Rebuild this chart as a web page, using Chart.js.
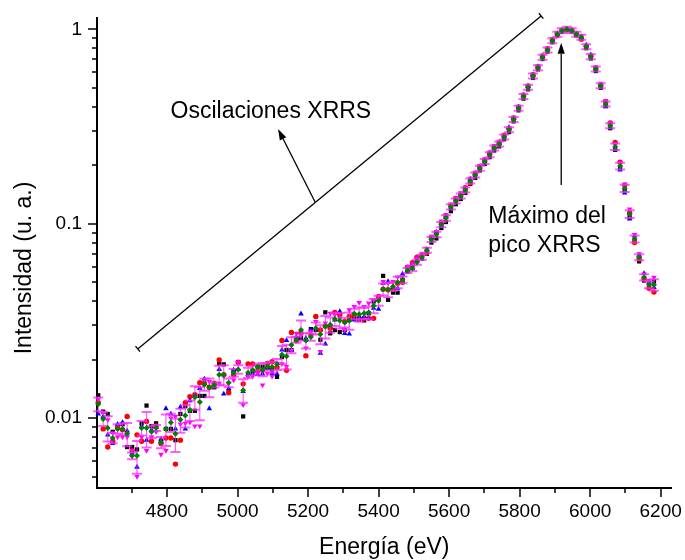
<!DOCTYPE html>
<html><head><meta charset="utf-8">
<script src="https://cdn.jsdelivr.net/npm/chart.js@4.4.1/dist/chart.umd.min.js"></script>
<style>html,body{margin:0;padding:0;background:#fff;}canvas{display:block;}</style>
</head><body>
<canvas id="c" width="685" height="560"></canvas>
<script>
// Energy (eV)
const energia = [
4605,4619,4632,4646,4660,4674,4687,4701,4715,4728,
4742,4756,4769,4783,4797,4811,4824,4838,4852,4865,
4879,4893,4906,4920,4934,4948,4961,4975,4989,5002,
5016,5030,5043,5057,5071,5085,5098,5112,5126,5139,
5153,5167,5180,5194,5208,5222,5235,5249,5263,5276,
5290,5304,5317,5331,5345,5359,5372,5386,5400,5413,
5427,5441,5454,5468,5482,5496,5509,5523,5537,5550,
5564,5578,5591,5605,5619,5633,5646,5660,5674,5687,
5701,5715,5728,5742,5756,5770,5783,5797,5811,5824,
5838,5852,5865,5879,5893,5907,5920,5934,5948,5961,
5975,5989,6002,6016,6030,6044,6057,6071,6085,6098,
6112,6126,6139,6153,6167,6181];

const serieNegra = [
0.0131,0.0108,0.0105,0.0085,0.0091,0.0093,0.0071,0.0071,0.0069,0.0094,
0.0116,0.0091,0.0094,0.0076,0.0088,0.0088,0.0077,0.0105,0.0115,0.0109,
0.0109,0.0130,0.0130,0.0144,0.0144,0.0190,0.0189,0.0136,0.0175,0.0194,
0.0102,0.0167,0.0175,0.0184,0.0184,0.0181,0.0178,0.0163,0.0206,0.0224,
0.0224,0.0258,0.0258,0.0209,0.0287,0.0284,0.0253,0.0350,0.0273,0.0284,
0.0277,0.0284,0.0320,0.0326,0.0320,0.0318,0.0346,0.0398,0.0406,0.0539,
0.0406,0.0442,0.0442,0.0514,0.0567,0.0614,0.0651,0.0678,0.0700,0.0800,
0.0840,0.0950,0.102,0.116,0.126,0.134,0.144,0.160,0.172,0.188,
0.203,0.220,0.238,0.250,0.272,0.296,0.336,0.383,0.440,0.491,
0.562,0.622,0.703,0.768,0.858,0.928,0.970,0.988,0.975,0.930,
0.895,0.800,0.708,0.610,0.500,0.403,0.310,0.240,0.193,0.149,
0.108,0.0810,0.0640,0.0510,0.0470,0.0505];

const serieRoja = [
0.0120,0.0088,0.0071,0.0076,0.0089,0.0087,0.0102,0.0068,0.0082,0.0076,
0.0096,0.0076,0.0091,0.0074,0.0079,0.0079,0.0058,0.0077,0.0120,0.0129,
0.0132,0.0152,0.0151,0.0144,0.0151,0.0199,0.0167,0.0135,0.0167,0.0194,
0.0150,0.0190,0.0190,0.0174,0.0176,0.0191,0.0195,0.0182,0.0251,0.0176,
0.0276,0.0250,0.0273,0.0209,0.0268,0.0333,0.0284,0.0298,0.0290,0.0350,
0.0340,0.0314,0.0333,0.0340,0.0326,0.0326,0.0326,0.0326,0.0422,0.0460,
0.0457,0.0460,0.0494,0.0500,0.0597,0.0631,0.0672,0.0691,0.0710,0.0850,
0.0900,0.1010,0.110,0.124,0.135,0.142,0.153,0.162,0.181,0.197,
0.213,0.231,0.249,0.262,0.285,0.309,0.350,0.398,0.459,0.512,
0.584,0.645,0.729,0.794,0.884,0.951,0.990,1.004,0.990,0.948,
0.890,0.822,0.731,0.633,0.518,0.425,0.330,0.262,0.207,0.158,
0.114,0.0800,0.0660,0.0520,0.0465,0.0445];

const serieAzul = [
0.0105,0.0102,0.0082,0.0074,0.0093,0.0095,0.0086,0.0066,0.0056,0.0091,
0.0077,0.0087,0.0090,0.0078,0.0112,0.0105,0.0088,0.0114,0.0088,0.0123,
0.0130,0.0142,0.0159,0.0112,0.0145,0.0178,0.0133,0.0142,0.0177,0.0178,
0.0137,0.0168,0.0170,0.0168,0.0169,0.0183,0.0170,0.0169,0.0224,0.0251,
0.0224,0.0261,0.0344,0.0258,0.0284,0.0290,0.0216,0.0241,0.0302,0.0320,
0.0354,0.0273,0.0271,0.0320,0.0333,0.0333,0.0326,0.0368,0.0363,0.0494,
0.0504,0.0471,0.0466,0.0552,0.0574,0.0590,0.0646,0.0657,0.0740,0.0845,
0.0905,0.0985,0.108,0.121,0.133,0.141,0.151,0.170,0.180,0.195,
0.211,0.229,0.247,0.260,0.283,0.313,0.348,0.399,0.456,0.508,
0.585,0.641,0.725,0.790,0.879,0.948,0.986,1.002,0.986,0.950,
0.915,0.830,0.740,0.628,0.516,0.400,0.312,0.242,0.189,0.144,
0.106,0.0865,0.0690,0.0555,0.0500,0.0470];

const serieMagenta = [
0.0125,0.0107,0.0098,0.0084,0.0080,0.0080,0.0080,0.0068,0.0050,0.0080,
0.0068,0.0080,0.0085,0.0065,0.0068,0.0100,0.0102,0.0093,0.0094,0.0095,
0.0091,0.0091,0.0148,0.0154,0.0148,0.0151,0.0164,0.0151,0.0157,0.0194,
0.0117,0.0164,0.0164,0.0170,0.0148,0.0170,0.0164,0.0191,0.0190,0.0184,
0.0223,0.0273,0.0268,0.0229,0.0279,0.0314,0.0220,0.0308,0.0346,0.0340,
0.0326,0.0284,0.0360,0.0375,0.0393,0.0375,0.0390,0.0406,0.0422,0.0504,
0.0494,0.0504,0.0531,0.0535,0.0602,0.0626,0.0665,0.0699,0.0745,0.0860,
0.0910,0.1030,0.111,0.126,0.136,0.144,0.154,0.171,0.184,0.199,
0.215,0.233,0.252,0.265,0.286,0.311,0.352,0.401,0.462,0.514,
0.588,0.648,0.733,0.798,0.890,0.958,0.995,1.010,0.996,0.960,
0.925,0.828,0.738,0.640,0.528,0.428,0.330,0.257,0.206,0.160,
0.119,0.0880,0.0700,0.0550,0.0510,0.0530];

const serieVerde = [
0.0118,0.0099,0.0089,0.0079,0.0088,0.0088,0.0083,0.0064,0.0064,0.0089,
0.0089,0.0085,0.0089,0.0075,0.0088,0.0095,0.0083,0.0098,0.0103,0.0110,
0.0128,0.0121,0.0149,0.0144,0.0148,0.0167,0.0167,0.0152,0.0171,0.0178,
0.0139,0.0171,0.0176,0.0183,0.0178,0.0184,0.0183,0.0189,0.0212,0.0208,
0.0238,0.0253,0.0284,0.0251,0.0261,0.0290,0.0270,0.0296,0.0302,0.0323,
0.0318,0.0310,0.0317,0.0344,0.0342,0.0346,0.0349,0.0378,0.0402,0.0460,
0.0457,0.0475,0.0500,0.0514,0.0574,0.0590,0.0633,0.0672,0.0730,0.0830,
0.0880,0.0990,0.107,0.122,0.131,0.139,0.149,0.166,0.178,0.193,
0.209,0.226,0.245,0.257,0.279,0.304,0.344,0.392,0.451,0.503,
0.575,0.635,0.718,0.783,0.874,0.943,0.983,1.000,0.983,0.943,
0.910,0.814,0.723,0.625,0.513,0.413,0.319,0.249,0.198,0.152,
0.112,0.0834,0.0673,0.0530,0.0485,0.0485];

const xTicks = [4800,5000,5200,5400,5600,5800,6000,6200];
const xMinorTicks = [4700,4900,5100,5300,5500,5700,5900,6100];
const yTicks = [0.01,0.1,1];
const yMinorTicks = [0.005,0.006,0.007,0.008,0.009,0.02,0.03,0.04,0.05,0.06,0.07,0.08,0.09,0.2,0.3,0.4,0.5,0.6,0.7,0.8,0.9];

// annotations (data coordinates)
const lineaOsc = [[4717,0.0227],[5861,1.171]];
const flechaOsc = [[5220,0.1294],[5115,0.307]];
const flechaMax = [[5918,0.1583],[5918,0.853]];
const textos = [
  {x:4810, y:0.3486, t:'Oscilaciones XRRS'},
  {x:5711, y:0.1013, t:'Máximo del'},
  {x:5711, y:0.0719, t:'pico XRRS'}
];

const FONT = 'Arial, "Liberation Sans", Helvetica, sans-serif';
const pts = arr => energia.map((e,i)=>({x:e,y:arr[i]}));

function errorDe(i){
  const v=[serieNegra[i],serieRoja[i],serieAzul[i],serieMagenta[i],serieVerde[i]];
  const m=v.reduce((a,b)=>a+b,0)/v.length;
  return Math.sqrt(v.reduce((a,b)=>a+(b-m)*(b-m),0)/(v.length-1));
}

const errPlugin = {
  id:'errbars',
  beforeDatasetDraw(chart,args){
    if(args.index!==0) return;
    const {ctx,scales:{x,y}}=chart;
    ctx.save();
    ctx.strokeStyle='rgba(255,40,255,0.75)';
    energia.forEach((e,i)=>{
      const s=errorDe(i), g=serieVerde[i];
      const px=x.getPixelForValue(e);
      let yt=y.getPixelForValue(g+s), yb=y.getPixelForValue(Math.max(g-s,1e-5));
      const yc=y.getPixelForValue(g);
      yt=Math.min(yt,yc-2.5); yb=Math.max(yb,yc+2.5);
      ctx.lineWidth=1.2;
      ctx.beginPath();ctx.moveTo(px,yt);ctx.lineTo(px,yb);ctx.stroke();
      ctx.lineWidth=2;
      ctx.beginPath();ctx.moveTo(px-5,yt);ctx.lineTo(px+5,yt);ctx.moveTo(px-5,yb);ctx.lineTo(px+5,yb);ctx.stroke();
    });
    ctx.restore();
  }
};

function flecha(ctx,x1,y1,x2,y2){
  const ang=Math.atan2(y2-y1,x2-x1), L=11, W=3.6;
  const bx=x2-L*Math.cos(ang), by=y2-L*Math.sin(ang);
  ctx.beginPath();ctx.moveTo(x1,y1);ctx.lineTo(bx,by);ctx.stroke();
  ctx.beginPath();
  ctx.moveTo(x2,y2);
  ctx.lineTo(bx+W*Math.sin(ang),by-W*Math.cos(ang));
  ctx.lineTo(bx-W*Math.sin(ang),by+W*Math.cos(ang));
  ctx.closePath();ctx.fill();
}

const decoPlugin = {
  id:'deco',
  afterDraw(chart){
    const {ctx,scales:{x,y},chartArea:a}=chart;
    ctx.save();
    ctx.strokeStyle='#000';ctx.fillStyle='#000';
    ctx.lineWidth=1.5;
    const vl=(px,len)=>{ctx.beginPath();ctx.moveTo(px,a.bottom);ctx.lineTo(px,a.bottom+len);ctx.stroke();};
    const hl=(py,len)=>{ctx.beginPath();ctx.moveTo(a.left,py);ctx.lineTo(a.left-len,py);ctx.stroke();};
    xTicks.forEach(v=>vl(Math.round(x.getPixelForValue(v)),9));
    xMinorTicks.forEach(v=>vl(Math.round(x.getPixelForValue(v)),5));
    yTicks.forEach(v=>hl(Math.round(y.getPixelForValue(v)),9));
    yMinorTicks.forEach(v=>hl(Math.round(y.getPixelForValue(v)),5));
    ctx.lineWidth=1.3;
    const p1=[x.getPixelForValue(lineaOsc[0][0]),y.getPixelForValue(lineaOsc[0][1])];
    const p2=[x.getPixelForValue(lineaOsc[1][0]),y.getPixelForValue(lineaOsc[1][1])];
    ctx.beginPath();ctx.moveTo(p1[0],p1[1]);ctx.lineTo(p2[0],p2[1]);ctx.stroke();
    const ang=Math.atan2(p2[1]-p1[1],p2[0]-p1[0]), c=3.5;
    [p1,p2].forEach(p=>{
      ctx.beginPath();
      ctx.moveTo(p[0]+c*Math.sin(ang),p[1]-c*Math.cos(ang));
      ctx.lineTo(p[0]-c*Math.sin(ang),p[1]+c*Math.cos(ang));
      ctx.stroke();
    });
    flecha(ctx,x.getPixelForValue(flechaOsc[0][0]),y.getPixelForValue(flechaOsc[0][1]),
               x.getPixelForValue(flechaOsc[1][0]),y.getPixelForValue(flechaOsc[1][1]));
    flecha(ctx,x.getPixelForValue(flechaMax[0][0]),y.getPixelForValue(flechaMax[0][1]),
               x.getPixelForValue(flechaMax[1][0]),y.getPixelForValue(flechaMax[1][1]));
    ctx.font='23px '+FONT;ctx.textAlign='left';ctx.textBaseline='alphabetic';
    textos.forEach(t=>ctx.fillText(t.t,x.getPixelForValue(t.x),y.getPixelForValue(t.y)));
    ctx.save();
    ctx.translate(25,268);ctx.rotate(-Math.PI/2);
    ctx.textAlign='center';ctx.textBaseline='middle';
    ctx.fillText('Intensidad (u. a.)',0,0);
    ctx.restore();
    ctx.restore();
  }
};

const ds = (label,data,color,style,r,rot)=>({
  label,data:pts(data),backgroundColor:color,borderColor:color,borderWidth:0,
  pointStyle:style,pointRadius:r,pointRotation:rot||0,showLine:false,clip:false
});

new Chart(document.getElementById('c'),{
  type:'scatter',
  data:{datasets:[
    ds('Promedio',serieVerde,'#008000','rectRot',3),
    ds('Serie 4',serieMagenta,'#ff00ff','triangle',3.2,180),
    ds('Serie 3',serieAzul,'#0000ff','triangle',3.2),
    ds('Serie 2',serieRoja,'#ff0000','circle',2.7),
    ds('Serie 1',serieNegra,'#000000','rect',3)
  ]},
  options:{
    responsive:false,animation:false,devicePixelRatio:1,
    layout:{padding:{left:0,right:11,top:18,bottom:0}},
    plugins:{legend:{display:false},tooltip:{enabled:false}},
    scales:{
      x:{type:'linear',min:4601.5,max:6231,
        afterBuildTicks:s=>{s.ticks=xTicks.map(v=>({value:v}));},
        afterFit:s=>{s.height=72;},
        ticks:{color:'#000',font:{family:FONT,size:19},padding:3,maxRotation:0,autoSkip:false,callback:v=>String(v)},
        grid:{display:true,drawOnChartArea:false,drawTicks:true,tickLength:9,tickColor:'rgba(0,0,0,0)'},
        border:{display:true,color:'#000',width:2},
        title:{display:true,text:'Energía (eV)',color:'#000',font:{family:FONT,size:23,lineHeight:1},padding:{top:0,bottom:1}}
      },
      y:{type:'logarithmic',min:0.004369,max:1.1434,
        afterBuildTicks:s=>{s.ticks=yTicks.map(v=>({value:v}));},
        afterFit:s=>{s.width=97;},
        ticks:{color:'#000',font:{family:FONT,size:19},padding:6,callback:v=>String(v)},
        grid:{display:true,drawOnChartArea:false,drawTicks:true,tickLength:9,tickColor:'rgba(0,0,0,0)'},
        border:{display:true,color:'#000',width:2}
      }
    }
  },
  plugins:[errPlugin,decoPlugin]
});
</script>
</body></html>
